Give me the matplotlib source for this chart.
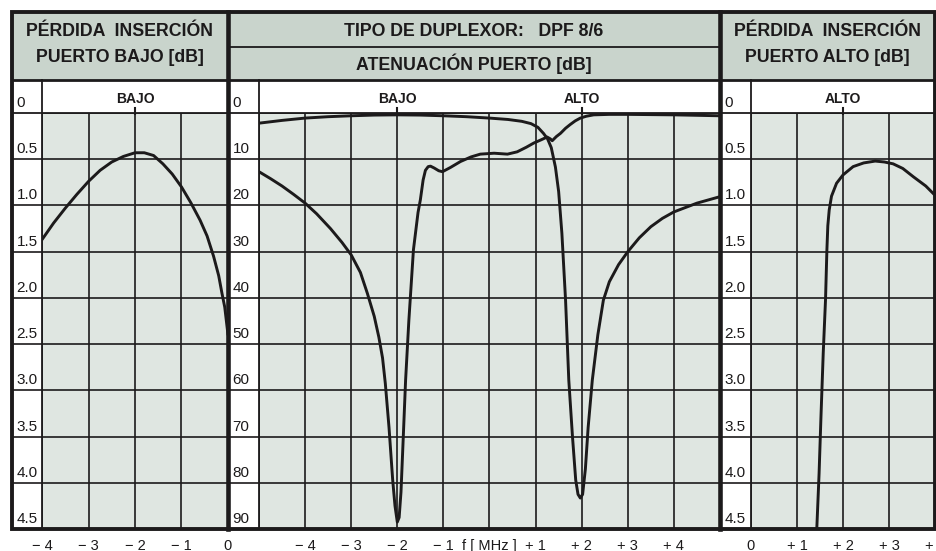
"""
Duplexer DPF 8/6 response sheet: insertion loss (low / high port) and port attenuation.
"""
import matplotlib
matplotlib.use("Agg")
import matplotlib.pyplot as plt
from matplotlib.patches import Rectangle

# ---- data ----
bajo_il_f = [-4.0, -3.75, -3.5, -3.25, -3.0, -2.75, -2.5, -2.25, -2.0, -1.8, -1.6,
             -1.4, -1.2, -1.0, -0.8, -0.6, -0.45, -0.31, -0.2, -0.13, -0.07, 0.0]
bajo_il_db = [1.37, 1.19, 1.03, 0.88, 0.74, 0.62, 0.53, 0.47, 0.43, 0.43, 0.46,
              0.55, 0.66, 0.80, 0.97, 1.16, 1.33, 1.55, 1.76, 1.95, 2.1, 2.4]

att_bajo_f = [-5.0, -4.5, -4.0, -3.5, -3.0, -2.5, -2.0, -1.5, -1.0, -0.5, 0.0, 0.4,
              0.7, 0.9, 1.05, 1.17, 1.26, 1.34, 1.43, 1.5, 1.57, 1.65, 1.72, 1.8,
              1.87, 1.92, 1.97, 2.02, 2.08, 2.14, 2.23, 2.35, 2.47, 2.6, 2.8, 3.0,
              3.25, 3.5, 3.75, 4.0, 4.5, 5.0]
att_bajo_db = [2.2, 1.6, 1.1, 0.8, 0.6, 0.45, 0.4, 0.45, 0.6, 0.8, 1.1, 1.4,
               1.8, 2.3, 3.1, 4.4, 5.6, 7.5, 11.7, 17.0, 26.0, 40.5, 57.8, 70.0,
               79.4, 82.5, 83.3, 82.5, 77.0, 68.0, 57.8, 48.0, 40.5, 36.5, 32.8, 30.0,
               27.0, 24.6, 22.8, 21.4, 19.5, 18.1]

att_alto_f = [-5.0, -4.75, -4.5, -4.25, -4.0, -3.75, -3.45, -3.2, -3.0, -2.8, -2.65,
              -2.5, -2.4, -2.32, -2.26, -2.18, -2.1, -2.05, -2.0, -1.96, -1.92, -1.87,
              -1.82, -1.75, -1.65, -1.55, -1.5, -1.44, -1.39, -1.33, -1.28, -1.2, -1.1,
              -1.02, -0.85, -0.63, -0.4, -0.2, 0.1, 0.39, 0.6, 0.8, 0.96, 1.12, 1.25,
              1.32, 1.36, 1.45, 1.54, 1.65, 1.75, 1.86, 1.97, 2.1, 2.26, 2.6, 3.0,
              4.0, 5.0]
att_alto_db = [12.7, 14.2, 15.8, 17.6, 19.5, 21.8, 25.0, 28.0, 30.7, 34.5, 39.0,
               44.0, 48.5, 53.0, 58.5, 68.0, 79.4, 85.0, 88.5, 87.5, 82.0, 70.0,
               57.8, 45.0, 29.6, 21.5, 18.8, 14.5, 12.4, 11.6, 11.5, 11.9, 12.5,
               12.7, 11.8, 10.5, 9.5, 8.9, 8.7, 8.9, 8.4, 7.4, 6.5, 5.8, 5.2,
               5.6, 6.0, 5.1, 4.4, 3.3, 2.5, 1.7, 1.1, 0.7, 0.4, 0.3, 0.3,
               0.4, 0.6]

alto_il_f = [1.43, 1.48, 1.52, 1.57, 1.62, 1.65, 1.67, 1.7, 1.75, 1.86, 2.0, 2.22,
             2.45, 2.7, 2.9, 3.09, 3.3, 3.53, 3.8, 4.0]
alto_il_db = [4.5, 3.9, 3.3, 2.6, 2.02, 1.48, 1.22, 1.05, 0.9, 0.76, 0.67, 0.58,
              0.54, 0.52, 0.53, 0.55, 0.6, 0.69, 0.79, 0.89]

il_ticks = [0.5 * i for i in range(10)]
il_labels = ["0", "0.5", "1.0", "1.5", "2.0", "2.5", "3.0", "3.5", "4.0", "4.5"]
att_ticks = [10 * i for i in range(10)]
att_labels = [str(v) for v in att_ticks]

bajo_x = [-4, -3, -2, -1, 0]
bajo_xlabels = ["\u2212 4", "\u2212 3", "\u2212 2", "\u2212 1", "0"]
mid_x = [-5, -4, -3, -2, -1, 0, 1, 2, 3, 4, 5]
mid_xlabels = ["", "\u2212 4", "\u2212 3", "\u2212 2", "\u2212 1", "f [ MHz ]",
               "+ 1", "+ 2", "+ 3", "+ 4", ""]
alto_x = [0, 1, 2, 3, 4]
alto_xlabels = ["0", "+ 1", "+ 2", "+ 3", "+ 4"]

# ---- layout (pixels) ----
W, H = 937, 551
TOP, HEAD_BOT, MID_SPLIT, GRID_TOP, BOT = 12, 80, 47, 113, 529
L0, LC, S1, MC, S2, RC, R1 = 12, 42, 228, 259, 720, 751, 935

HEAD_BG = "#c9d4cc"
GRID_BG = "#dfe6e1"
INK = "#1c1a1b"

plt.rcParams["font.family"] = ["Liberation Sans", "DejaVu Sans"]

fig = plt.figure(figsize=(W / 100, H / 100), dpi=100)
fig.patch.set_facecolor("white")


def px_axes(x0, y0, x1, y1, z):
    return fig.add_axes([x0 / W, 1 - y1 / H, (x1 - x0) / W, (y1 - y0) / H], zorder=z)


bg = px_axes(0, 0, W, H, 0)
bg.set_xlim(0, W)
bg.set_ylim(H, 0)
bg.axis("off")
bg.add_patch(Rectangle((L0, TOP), R1 - L0, HEAD_BOT - TOP, color=HEAD_BG, lw=0))

curve = dict(color=INK, lw=2.1, solid_joinstyle="round", solid_capstyle="round")


def marker_label(ax, x, name):
    xt = ax.get_xaxis_transform()
    ax.plot([x, x], [0.997, 1.013], transform=xt, clip_on=False, color=INK, lw=1.5)
    ax.text(x, 1.018, name, transform=xt, ha="center", va="bottom",
            fontsize=10, fontweight="bold", color=INK)


def panel(x0, x1, col, xlim, ymax, yticks, ylabels, xticks, xlabels):
    ax = px_axes(x0, GRID_TOP, x1, BOT, 2)
    ax.set_facecolor(GRID_BG)
    ax.set_xlim(*xlim)
    ax.set_ylim(ymax, 0)
    ax.set_xticks(xticks)
    ax.set_xticklabels(xlabels, fontsize=10.5)
    ax.set_yticks(yticks)
    ax.set_yticklabels([])
    ax.tick_params(length=0, pad=7, colors=INK)
    ax.grid(True, color=INK, lw=1.2)
    for s in ax.spines.values():
        s.set_visible(False)
    w = x1 - x0
    frac = (x0 - col) / w
    yt = ax.get_yaxis_transform()
    for v, lab in zip(yticks, ylabels):
        if v > 0:
            ax.plot([-frac, 0], [v, v], transform=yt, clip_on=False, color=INK, lw=1.2)
        ax.text(-frac + 4.5 / w, v - ymax * 3 / 416, lab, transform=yt,
                ha="left", va="bottom", fontsize=11, color=INK)
    return ax


ax_l = panel(LC, S1, L0, (-4, 0), 4.5, il_ticks, il_labels, bajo_x, bajo_xlabels)
marker_label(ax_l, -2, "BAJO")
ax_l.plot(bajo_il_f, bajo_il_db, **curve)

ax_m = panel(MC, S2, S1, (-5, 5), 90, att_ticks, att_labels, mid_x, mid_xlabels)
marker_label(ax_m, -2, "BAJO")
marker_label(ax_m, 2, "ALTO")
ax_m.plot(att_bajo_f, att_bajo_db, **curve)
ax_m.plot(att_alto_f, att_alto_db, **curve)

ax_r = panel(RC, R1, S2, (0, 4), 4.5, il_ticks, il_labels, alto_x, alto_xlabels)
marker_label(ax_r, 2, "ALTO")
ax_r.plot(alto_il_f, alto_il_db, **curve)

# ---- frame and headers ----
top = px_axes(0, 0, W, H, 5)
top.set_xlim(0, W)
top.set_ylim(H, 0)
top.axis("off")
top.patch.set_alpha(0)

top.add_patch(Rectangle((L0, TOP), R1 - L0, BOT - TOP, fill=False, ec=INK, lw=2.8))
for x in (S1, S2):
    top.plot([x, x], [TOP, BOT], color=INK, lw=3.3)
top.plot([L0, R1], [HEAD_BOT, HEAD_BOT], color=INK, lw=2.0)
top.plot([S1, S2], [MID_SPLIT, MID_SPLIT], color=INK, lw=1.3)
top.plot([L0, R1], [GRID_TOP, GRID_TOP], color=INK, lw=1.3)
for x in (LC, MC, RC):
    top.plot([x, x], [HEAD_BOT, BOT], color=INK, lw=1.3)

head = dict(ha="center", va="center", fontsize=12.8, fontweight="bold", color=INK)
for cx, port in (((L0 + S1) / 2, "BAJO"), ((S2 + R1) / 2, "ALTO")):
    top.text(cx, 31, "PÉRDIDA  INSERCIÓN", **head)
    top.text(cx, 57, f"PUERTO {port} [dB]", **head)
top.text((S1 + S2) / 2, 31, "TIPO DE DUPLEXOR:   DPF 8/6", **head)
top.text((S1 + S2) / 2, 64, "ATENUACIÓN PUERTO [dB]", **head)

fig.savefig("out.png", dpi=100, facecolor="white")
